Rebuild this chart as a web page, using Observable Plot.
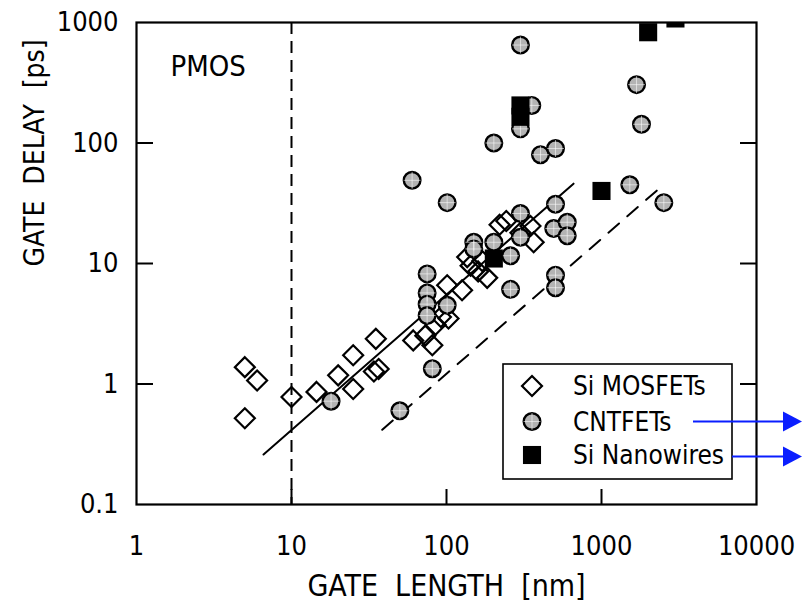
<!DOCTYPE html>
<html><head><meta charset="utf-8">
<script src="https://cdn.jsdelivr.net/npm/d3@7"></script>
<script src="https://cdn.jsdelivr.net/npm/@observablehq/plot@0.6"></script>
<style>
body{margin:0;background:#fff}
svg text{white-space:pre}
</style>
</head><body><div id="chart"></div>
<script>
// ---- data (gate length nm, gate delay ps) ----
const mosLength = [5, 6, 5, 10, 14.5, 20, 25, 35, 25, 34, 36.5, 61, 81, 73, 85, 103, 92, 101, 126, 143, 136, 183, 160, 243, 348, 365, 300, 220, 170];
const mosDelay  = [1.38, 1.07, 0.52, 0.78, 0.86, 1.18, 1.73, 2.37, 0.91, 1.27, 1.33, 2.3, 2.1, 2.52, 3.1, 3.5, 3.6, 6.6, 6.0, 9.6, 11.3, 7.6, 8.6, 22.5, 20.5, 15, 18, 21, 10.5];

const cntLength = [18, 50, 60, 75, 75, 75, 75, 101, 81, 101, 150, 150, 202, 259, 259, 300, 300, 505, 492, 601, 601, 505, 505, 300, 355, 300, 202, 404, 505, 1683, 1811, 1523, 2524];
const cntDelay  = [0.72, 0.6, 49, 8.2, 5.7, 4.6, 3.7, 4.5, 1.34, 32, 15, 13.2, 15, 11.6, 6.1, 26, 16.5, 31, 19.5, 22, 17, 8, 6.3, 650, 205, 131, 100, 80, 90, 305, 143, 45, 32];

const nwLength = [300, 300, 202, 1000, 2000, 3000];
const nwDelay  = [205, 165, 11, 40, 830, 1080];

// trend lines (end points)
const solidLength = [6.6, 660];
const solidDelay  = [0.26, 46];
const dashLength  = [38.5, 2560];
const dashDelay   = [0.417, 46];

const limitLength = [10];

const xTicks = [1, 10, 100, 1000, 10000];
const xTickLabels = ["1", "10", "100", "1000", "10000"];
const yTicks = [0.1, 1, 10, 100, 1000];
const yTickLabels = ["0.1", "1", "10", "100", "1000"];
const innerXTicks = [10, 100, 1000];
const innerYTicks = [1, 10, 100];

const legendLabels = ["Si MOSFETs", "CNTFETs", "Si Nanowires"];

const toRows = (xs, ys) => xs.map((x, i) => ({x, y: ys[i]}));
const mos = toRows(mosLength, mosDelay);
const cnt = toRows(cntLength, cntDelay);
const nw = toRows(nwLength, nwDelay);
const solid = toRows(solidLength, solidDelay);
const dash = toRows(dashLength, dashDelay);

const FONT = "'DejaVu Sans Condensed', 'DejaVu Sans', sans-serif";
const R_DIAMOND = 9, R_CIRCLE = 8.3, R_SQUARE = 10.2;
const GREY = "#b3b3b3";

const plot = Plot.plot({
  width: 803, height: 609,
  marginLeft: 136, marginRight: 47, marginTop: 22, marginBottom: 105,
  style: {fontFamily: FONT, background: "white", overflow: "visible", color: "black"},
  x: {type: "log", domain: [1, 10000]},
  y: {type: "log", domain: [0.1, 1000]},
  marks: [
    Plot.ruleX(limitLength, {stroke: "black", strokeWidth: 2, strokeDasharray: "12,7"}),
    Plot.line(solid, {x: "x", y: "y", stroke: "black", strokeWidth: 2}),
    Plot.line(dash, {x: "x", y: "y", stroke: "black", strokeWidth: 2, strokeDasharray: "14,11"}),
    Plot.dot(mos, {x: "x", y: "y", symbol: "diamond2", r: R_DIAMOND, stroke: "black", strokeWidth: 2.2, fill: "none"}),
    Plot.dot(cnt, {x: "x", y: "y", symbol: "circle", r: R_CIRCLE, stroke: "black", strokeWidth: 2.4, fill: GREY}),
    Plot.dot(cnt, {x: "x", y: "y", symbol: "plus", r: 5.5, stroke: "white", strokeWidth: 0.8, strokeOpacity: 0.7}),
    Plot.dot(nw, {x: "x", y: "y", symbol: "square", r: R_SQUARE, fill: "black", stroke: "none", clip: true}),
    Plot.frame({stroke: "black", strokeWidth: 2.2}),
    Plot.axisY(innerYTicks, {anchor: "left", tickSize: -17, strokeWidth: 2, fill: "none", label: null}),
    Plot.axisY(innerYTicks, {anchor: "right", tickSize: -17, strokeWidth: 2, fill: "none", label: null}),
    Plot.axisX(innerXTicks, {anchor: "bottom", tickSize: -15, strokeWidth: 2, fill: "none", label: null}),
    Plot.axisY(yTicks, {anchor: "left", tickSize: 0, tickPadding: 18, fontSize: 27, tickFormat: d => yTickLabels[yTicks.indexOf(d)], label: null}),
    Plot.axisX(xTicks, {anchor: "bottom", tickSize: 0, tickPadding: 31, fontSize: 27, tickFormat: d => xTickLabels[xTicks.indexOf(d)], label: null}),
    Plot.text(["GATE\u00a0\u00a0LENGTH\u00a0\u00a0[nm]"], {frameAnchor: "bottom", dy: 82, fontSize: 30, lineAnchor: "middle"}),
    Plot.text(["GATE\u00a0\u00a0DELAY\u00a0\u00a0[ps]"], {frameAnchor: "left", dx: -101, dy: 3, rotate: -90, fontSize: 28, lineAnchor: "middle"}),
    Plot.text(["PMOS"], {frameAnchor: "top-left", dx: 34, dy: 44, textAnchor: "start", lineAnchor: "middle", fontSize: 29})
  ]
});
document.getElementById("chart").appendChild(plot);

// ---- legend + arrows (annotation, placed relative to the frame) ----
const sx = plot.scale("x"), sy = plot.scale("y");
const fr = sx.range[1], fb = sy.range[0];
const svg = d3.select(plot);
const g = svg.append("g");
const lx = fr - 253, ly = fb - 140, lw = 229, lh = 115;
g.append("rect").attr("x", lx).attr("y", ly).attr("width", lw).attr("height", lh)
  .attr("fill", "white").attr("stroke", "black").attr("stroke-width", 1.6);
const rowY = [ly + 22, ly + 57.5, ly + 91];
const symX = lx + 29;
g.append("path").attr("transform", `translate(${symX},${rowY[0]})`)
  .attr("d", d3.symbol(d3.symbolDiamond2, Math.PI * R_DIAMOND * R_DIAMOND)())
  .attr("fill", "none").attr("stroke", "black").attr("stroke-width", 2.2);
g.append("circle").attr("cx", symX).attr("cy", rowY[1]).attr("r", R_CIRCLE)
  .attr("fill", GREY).attr("stroke", "black").attr("stroke-width", 2.4);
g.append("path").attr("transform", `translate(${symX},${rowY[1]})`)
  .attr("d", d3.symbol(d3.symbolPlus, Math.PI * 5.5 * 5.5)())
  .attr("fill", "none").attr("stroke", "white").attr("stroke-width", 0.8).attr("stroke-opacity", 0.7);
g.append("path").attr("transform", `translate(${symX},${rowY[2]})`)
  .attr("d", d3.symbol(d3.symbolSquare, Math.PI * R_SQUARE * R_SQUARE)())
  .attr("fill", "black");
legendLabels.forEach((t, i) => {
  g.append("text").attr("x", lx + 70).attr("y", rowY[i]).attr("dy", "0.36em")
    .attr("text-anchor", "start")
    .attr("font-size", 26).attr("font-family", FONT).attr("fill", "black").text(t);
});
// blue arrows
const BLUE = "#0a1eff";
const arrows = [{x0: lx + 190, y: rowY[1]}, {x0: lx + lw, y: rowY[2] + 1.5}];
arrows.forEach(a => {
  g.append("line").attr("x1", a.x0).attr("x2", 785).attr("y1", a.y).attr("y2", a.y)
    .attr("stroke", BLUE).attr("stroke-width", 2);
  g.append("path").attr("d", `M783,${a.y - 10}L802,${a.y}L783,${a.y + 10}Z`).attr("fill", BLUE);
});
</script>
</body></html>
